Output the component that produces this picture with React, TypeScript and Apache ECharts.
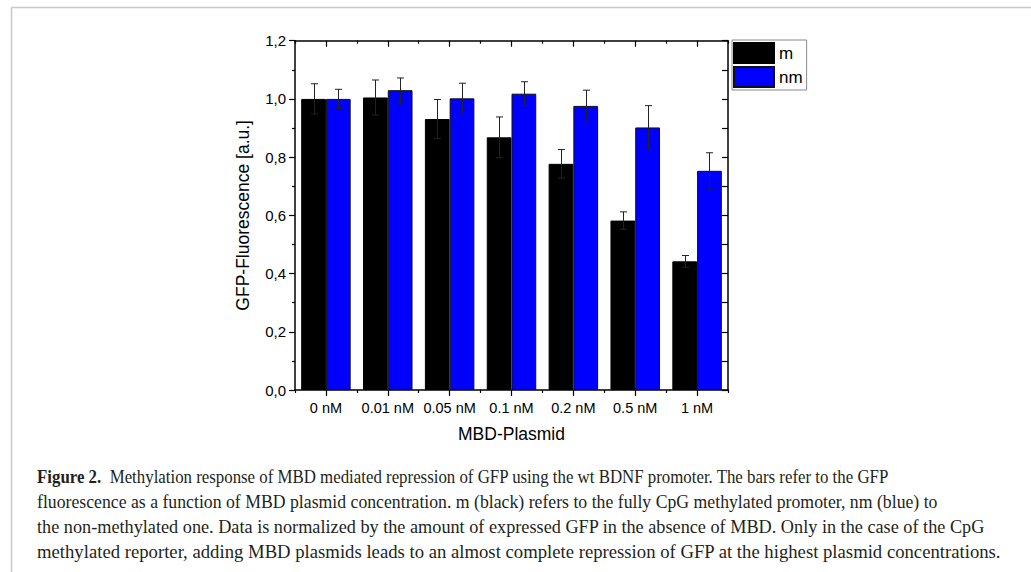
import React, { useEffect, useRef } from "react";
import * as echarts from "echarts";

const categories = ["0 nM", "0.01 nM", "0.05 nM", "0.1 nM", "0.2 nM", "0.5 nM", "1 nM"];
const mValues = [1.0, 1.005, 0.931, 0.868, 0.777, 0.582, 0.442];
const mErrors = [0.052, 0.06, 0.067, 0.07, 0.049, 0.03, 0.02];
const nmValues = [1.0, 1.03, 1.002, 1.018, 0.976, 0.902, 0.753];
const nmErrors = [0.033, 0.042, 0.052, 0.041, 0.054, 0.075, 0.062];
const seriesNames = ["m", "nm"];
const yTicks = { min: 0, max: 1.2, interval: 0.2 };
const xAxisName = "MBD-Plasmid";
const yAxisName = "GFP-Fluorescence [a.u.]";
const captionLines = [
  "{b|Figure 2.}  Methylation response of MBD mediated repression of GFP using the wt BDNF promoter. The bars refer to the GFP",
  "fluorescence as a function of MBD plasmid concentration. m (black) refers to the fully CpG methylated promoter, nm (blue) to",
  "the non-methylated one. Data is normalized by the amount of expressed GFP in the absence of MBD. Only in the case of the CpG",
  "methylated reporter, adding MBD plasmids leads to an almost complete repression of GFP at the highest plasmid concentrations.",
];
// layout only: horizontal squeeze of each caption line to match the reference typesetting
const captionLayout = { x: 37, y0: 477, step: 25, scale: [0.936, 0.985, 1.013, 1.039] };

const FONT = "Liberation Sans, Arial, sans-serif";
const SERIF = "Liberation Serif, Times New Roman, serif";

function errorSeries(values: number[], errors: number[], side: number) {
  return {
    type: "custom",
    xAxisIndex: 0,
    yAxisIndex: 0,
    silent: true,
    z: 5,
    data: values.map((v, i) => [i, v, errors[i]]),
    renderItem: (params: any, api: any) => {
      const idx = api.value(0);
      const v = api.value(1);
      const e = api.value(2);
      const bw = api.size([1, 0])[0];
      const off = side * bw * 0.2;
      const hi = api.coord([idx, v + e]);
      const lo = api.coord([idx, v - e]);
      const x = Math.round(hi[0] + off) + 0.5;
      const cap = 3.5;
      const style = { stroke: "#222", lineWidth: 1 };
      return {
        type: "group",
        children: [
          { type: "line", shape: { x1: x, y1: hi[1], x2: x, y2: lo[1] }, style },
          { type: "line", shape: { x1: x - cap, y1: hi[1], x2: x + cap, y2: hi[1] }, style },
          { type: "line", shape: { x1: x - cap, y1: lo[1], x2: x + cap, y2: lo[1] }, style },
        ],
      };
    },
  };
}

export default function App() {
  const ref = useRef<HTMLDivElement>(null);
  useEffect(() => {
    if (!ref.current) return;
    const chart = echarts.init(ref.current, null, { renderer: "svg" });
    const axisLine = { show: true, lineStyle: { color: "#000", width: 1.5 } };
    const catBase = {
      type: "category",
      data: categories,
      boundaryGap: true,
      axisLine,
      splitLine: { show: false },
    };
    chart.setOption({
      animation: false,
      backgroundColor: "#fff",
      textStyle: { fontFamily: FONT },
      grid: { left: 295, right: 303, top: 40.7, bottom: 182, containLabel: false },
      legend: {
        orient: "vertical",
        left: 732,
        top: 40,
        padding: [2, 4, 2, 1],
        itemGap: 2,
        itemWidth: 40,
        itemHeight: 20,
        icon: "rect",
        borderColor: "#888",
        borderWidth: 1,
        textStyle: { fontSize: 17, color: "#000", fontFamily: FONT, padding: [0, 0, 0, 0] },
        data: seriesNames,
      },
      xAxis: [
        {
          ...catBase,
          position: "bottom",
          axisTick: { show: true, alignWithLabel: true, inside: false, length: 6, lineStyle: { color: "#000", width: 1.2 } },
          axisLabel: { show: true, interval: 0, fontSize: 14.5, color: "#000", margin: 10, fontFamily: FONT },
          name: xAxisName,
          nameLocation: "middle",
          nameGap: 35,
          nameTextStyle: { fontSize: 17.5, color: "#000", fontFamily: FONT },
        },
        {
          ...catBase,
          position: "bottom",
          axisLine: { show: false },
          axisTick: { show: true, interval: 0, alignWithLabel: false, inside: false, length: 3, lineStyle: { color: "#000", width: 1.2 } },
          axisLabel: { show: false },
        },
        {
          ...catBase,
          position: "top",
          axisTick: { show: true, interval: 0, alignWithLabel: true, inside: true, length: 6, lineStyle: { color: "#000", width: 1.2 } },
          axisLabel: { show: false },
        },
        {
          ...catBase,
          position: "top",
          axisLine: { show: false },
          axisTick: { show: true, interval: 0, alignWithLabel: false, inside: true, length: 3, lineStyle: { color: "#000", width: 1.2 } },
          axisLabel: { show: false },
        },
      ],
      yAxis: [
        {
          type: "value",
          position: "left",
          min: yTicks.min,
          max: yTicks.max,
          interval: yTicks.interval,
          axisLine,
          axisTick: { show: true, inside: false, length: 6, lineStyle: { color: "#000", width: 1.2 } },
          minorTick: { show: true, splitNumber: 2, length: 3, lineStyle: { color: "#000", width: 1.2 } },
          splitLine: { show: false },
          axisLabel: {
            fontSize: 15,
            color: "#000",
            margin: 9,
            fontFamily: FONT,
            formatter: (v: number) => v.toFixed(1).replace(".", ","),
          },
          name: yAxisName,
          nameLocation: "middle",
          nameGap: 43,
          nameRotate: 90,
          nameTextStyle: { fontSize: 17.5, color: "#000", fontFamily: FONT },
        },
        {
          type: "value",
          position: "right",
          min: 0,
          max: 1.2,
          interval: 0.1,
          axisLine,
          axisTick: { show: true, inside: true, length: 6, lineStyle: { color: "#000", width: 1.2 } },
          splitLine: { show: false },
          axisLabel: { show: false },
        },
      ],
      series: [
        {
          name: seriesNames[0],
          type: "bar",
          data: mValues,
          barWidth: "40%",
          barGap: "0%",
          itemStyle: { color: "#000", borderColor: "#000", borderWidth: 1 },
        },
        {
          name: seriesNames[1],
          type: "bar",
          data: nmValues,
          barWidth: "40%",
          barGap: "0%",
          itemStyle: { color: "#0000ff", borderColor: "#111", borderWidth: 1 },
        },
        errorSeries(mValues, mErrors, -1),
        errorSeries(nmValues, nmErrors, 1),
      ],
      graphic: [
        { type: "line", shape: { x1: 11.5, y1: 7.5, x2: 1031, y2: 7.5 }, style: { stroke: "#c8c8c8", lineWidth: 1.5 }, silent: true },
        { type: "line", shape: { x1: 11.5, y1: 7.5, x2: 11.5, y2: 572 }, style: { stroke: "#c8c8c8", lineWidth: 1.5 }, silent: true },
        ...captionLines.map((t, i) => ({
          type: "text",
          x: captionLayout.x,
          y: captionLayout.y0 + i * captionLayout.step,
          scaleX: captionLayout.scale[i],
          silent: true,
          style: {
            text: t,
            fontFamily: SERIF,
            fontSize: 18,
            fill: "#231f20",
            verticalAlign: "middle",
            align: "left",
            rich: { b: { fontWeight: "bold", fontFamily: SERIF, fontSize: 18, fill: "#231f20" } },
          },
        })),
      ],
    });
    return () => chart.dispose();
  }, []);
  return <div ref={ref} style={{ position: "fixed", left: 0, top: 0, width: 1031, height: 572 }} />;
}
